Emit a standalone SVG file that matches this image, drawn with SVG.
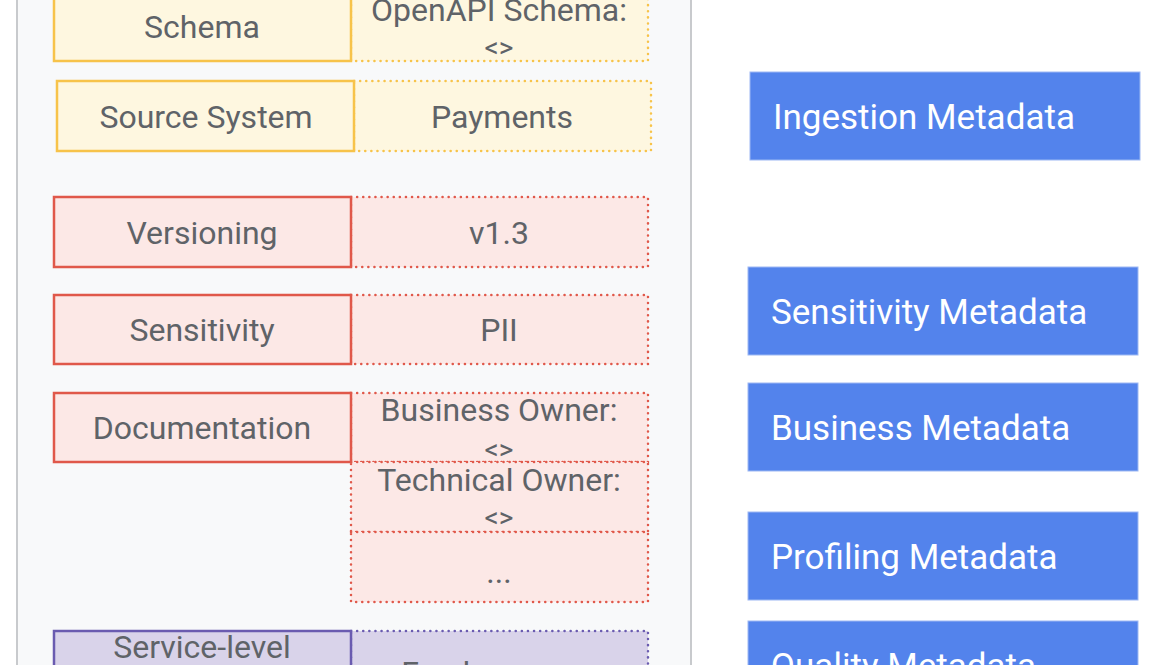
<svg xmlns="http://www.w3.org/2000/svg" width="1160" height="665" viewBox="0 0 1160 665">
<style>
.t{font-family:Roboto,"Liberation Sans",sans-serif;font-size:32px;fill:#5f6368;text-anchor:middle}
.s{font-size:28px}
.b{font-family:Roboto,"Liberation Sans",sans-serif;font-size:35px;fill:#ffffff}
.yk{fill:#fef7e0;stroke:#f7c34a;stroke-width:2.5}
.yv{fill:#fef7e0;stroke:#f7c34a;stroke-width:2.5;stroke-dasharray:0.1 6;stroke-linecap:round}
.rk{fill:#fce8e6;stroke:#e0584a;stroke-width:2.5}
.rv{fill:#fce8e6;stroke:#e0584a;stroke-width:2.5;stroke-dasharray:0.1 6;stroke-linecap:round}
.pk{fill:#d9d3ea;stroke:#6a5bb0;stroke-width:2.5}
.pv{fill:#d9d3ea;stroke:#6a5bb0;stroke-width:2.5;stroke-dasharray:0.1 6;stroke-linecap:round}
.bl{fill:#5383ec;stroke:#9db8f3;stroke-width:1}
</style>
<rect width="1160" height="665" fill="#ffffff"/>
<g id="panel"><rect x="17" y="-20" width="674" height="720" fill="#f8f9fa" stroke="#c8cacd" stroke-width="2"/></g>
<g id="schema">
<rect class="yv" x="351" y="-9" width="297" height="70"/>
<rect class="yk" x="54" y="-9" width="297" height="70"/>
<text class="t" x="202" y="38">Schema</text>
<text class="t" x="499" y="21">OpenAPI Schema:</text>
<text class="t s" x="499" y="57">&lt;&gt;</text>
</g>
<g id="source-system">
<rect class="yv" x="354" y="81" width="297" height="70"/>
<rect class="yk" x="57" y="81" width="297" height="70"/>
<text class="t" x="206" y="128">Source System</text>
<text class="t" x="502" y="128">Payments</text>
</g>
<g id="versioning">
<rect class="rv" x="351" y="197" width="297" height="70"/>
<rect class="rk" x="54" y="197" width="297" height="70"/>
<text class="t" x="202" y="244">Versioning</text>
<text class="t" x="499" y="244">v1.3</text>
</g>
<g id="sensitivity">
<rect class="rv" x="351" y="295" width="297" height="69"/>
<rect class="rk" x="54" y="295" width="297" height="69"/>
<text class="t" x="202" y="341">Sensitivity</text>
<text class="t" x="499" y="341">PII</text>
</g>
<g id="documentation">
<rect class="rv" x="351" y="393" width="297" height="69"/>
<rect class="rv" x="351" y="462" width="297" height="70"/>
<rect class="rv" x="351" y="532" width="297" height="70"/>
<rect class="rk" x="54" y="393" width="297" height="69"/>
<text class="t" x="202" y="439">Documentation</text>
<text class="t" x="499" y="421">Business Owner:</text>
<text class="t s" x="499" y="459">&lt;&gt;</text>
<text class="t" x="499" y="491">Technical Owner:</text>
<text class="t s" x="499" y="527">&lt;&gt;</text>
<text class="t" x="499" y="583">...</text>
</g>
<g id="service-level">
<rect class="pv" x="351" y="631" width="297" height="70"/>
<rect class="pk" x="54" y="631" width="297" height="70"/>
<text class="t" x="202" y="658">Service-level</text>
<text class="t" x="499" y="684">Freshness: &lt;&gt;</text>
</g>
<g id="ingestion-metadata"><rect class="bl" x="750" y="72" width="390" height="88"/><text class="b" x="773" y="129">Ingestion Metadata</text></g>
<g id="sensitivity-metadata"><rect class="bl" x="748" y="267" width="390" height="88"/><text class="b" x="771" y="324">Sensitivity Metadata</text></g>
<g id="business-metadata"><rect class="bl" x="748" y="383" width="390" height="88"/><text class="b" x="771" y="440">Business Metadata</text></g>
<g id="profiling-metadata"><rect class="bl" x="748" y="512" width="390" height="88"/><text class="b" x="771" y="569">Profiling Metadata</text></g>
<g id="quality-metadata"><rect class="bl" x="748" y="621" width="390" height="88"/><text class="b" x="771" y="678">Quality Metadata</text></g>
<g id="connectors"></g>
</svg>
